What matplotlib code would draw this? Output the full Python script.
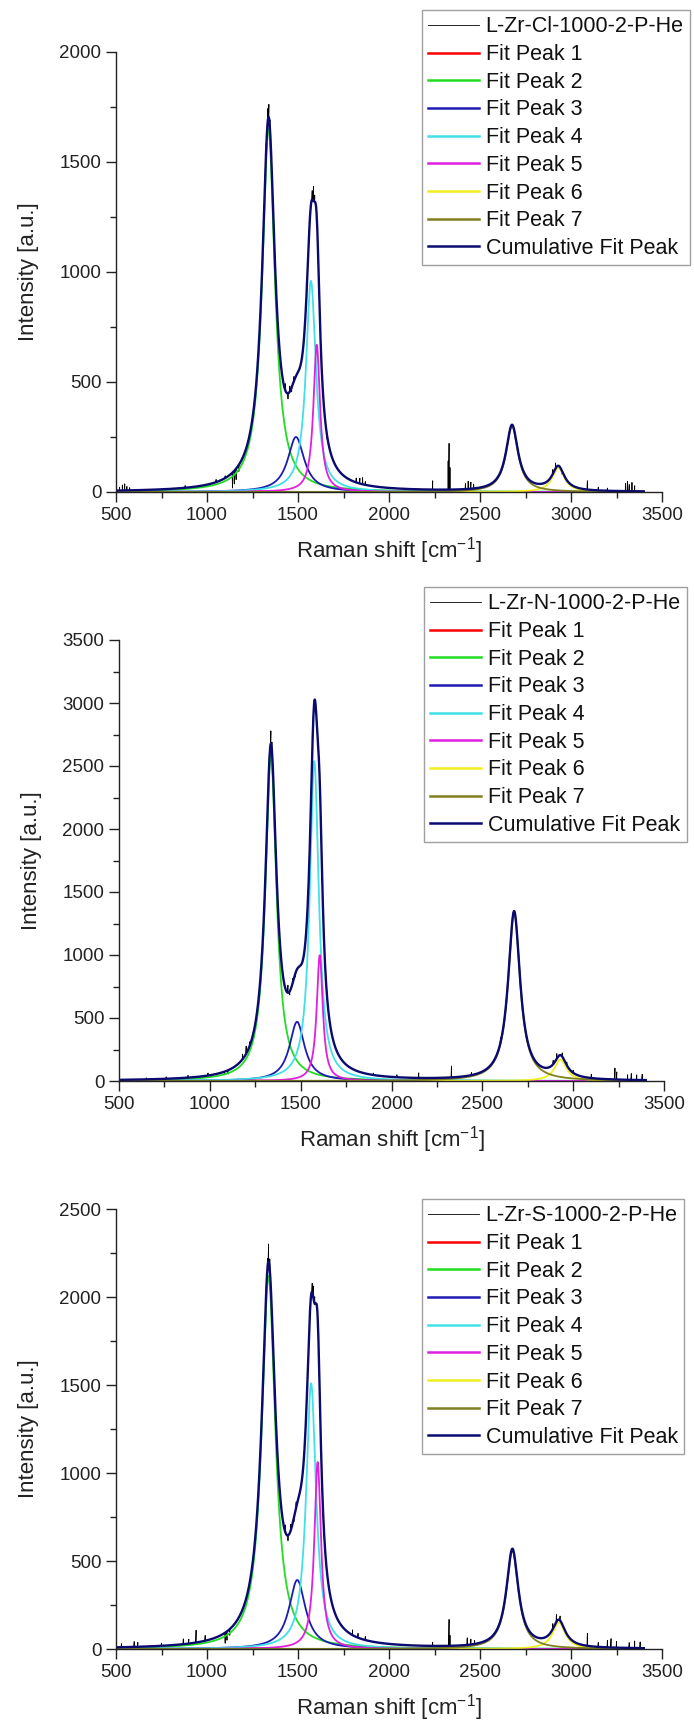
import matplotlib
matplotlib.use("Agg")
import matplotlib.pyplot as plt
from matplotlib.ticker import MultipleLocator
import numpy as np

plt.rcParams['font.family'] = ['Liberation Sans', 'DejaVu Sans']
plt.rcParams['mathtext.fontset'] = 'custom'
plt.rcParams['mathtext.rm'] = 'Liberation Sans'
plt.rcParams['mathtext.default'] = 'regular'

sample_names = ['L-Zr-Cl-1000-2-P-He', 'L-Zr-N-1000-2-P-He', 'L-Zr-S-1000-2-P-He']
y_max = [2000, 3500, 2500]
peak_labels = ['Fit Peak %d' % i for i in range(1, 8)]
peak_colors = ['#FF0000', '#22DD22', '#1C1CB4', '#40E0E8', '#E020E0', '#F0F020', '#808020']

# fitted peaks: centre, height, half width (cm-1)
cl_pos = [1200, 1338, 1489, 1571, 1603, 2930, 2676]
cl_height = [5, 1650, 250, 960, 670, 110, 300]
cl_hwhm = [100, 42, 55, 33, 22, 40, 40]

n_pos = [1200, 1336, 1480, 1575, 1605, 2930, 2675]
n_height = [5, 2580, 470, 2540, 1000, 170, 1340]
n_hwhm = [100, 37, 50, 30, 20, 40, 40]

s_pos = [1200, 1338, 1496, 1572, 1608, 2933, 2678]
s_height = [5, 2120, 392, 1510, 1062, 150, 561]
s_hwhm = [100, 45, 55, 33, 22, 42, 40]

# raw spectrum: where the measured curve leaves the fit (x, offset)
cl_spike_x = [520, 535, 548, 560, 575, 880, 1050, 1100, 1140, 1150, 1160, 1175,
              1325, 1334, 1340, 1346, 1430, 1445, 1455, 1465, 1478, 1578, 1585, 1592,
              1650, 1660, 1820, 1840, 1855, 1870, 2240, 2325, 2330, 2335,
              2420, 2435, 2450, 2465, 2900, 2915, 2950, 3090, 3150, 3200,
              3300, 3310, 3320, 3335, 3350]
cl_spike_dy = [15, 25, 30, 18, 12, 10, 12, 10, -70, -60, -50, -30,
               30, 55, 60, 40, 30, -25, 25, -20, 20, 40, 65, 30,
               20, -15, 20, 25, 30, 15, 40, 130, 210, 100,
               25, 35, 30, 20, 20, 25, -15, 40, 15, 12,
               35, 45, 30, 40, 25]

n_spike_x = [650, 760, 880, 990, 1080, 1100, 1180, 1200, 1220,
             1328, 1336, 1342, 1430, 1440, 1455, 1470,
             1900, 2030, 2150, 2330, 2440, 2600, 2620, 2700,
             2890, 2910, 2940, 2965, 3000, 3100, 3230, 3240, 3300, 3320, 3350, 3380]
n_spike_dy = [12, 15, 18, 20, -25, -30, 40, 60, 30,
              60, 100, 70, 60, -30, 40, -25,
              15, 20, 40, 90, 20, 40, -30, 30,
              30, 40, 30, 25, 20, 30, 90, 60, 40, 50, 40, 45]

s_spike_x = [530, 600, 620, 750, 870, 900, 940, 990, 1100, 1110, 1125,
             1332, 1338, 1345, 1430, 1445, 1460, 1478, 1490, 1578, 1585, 1592,
             1640, 1800, 1830, 1870, 2240, 2330, 2335, 2430, 2450, 2470,
             2900, 2920, 2940, 3090, 3150, 3200, 3220, 3250, 3320, 3350, 3380]
s_spike_dy = [20, 30, 25, 15, 30, 25, 70, 30, -60, -50, -35,
              60, 100, 60, 40, -30, 35, -25, 30, 50, 70, 40,
              40, 30, 25, 20, 20, 150, 60, 40, 30, 20,
              30, 40, 25, 70, 25, 40, 50, 35, 30, 40, 35]

panels = [
    (cl_pos, cl_height, cl_hwhm, cl_spike_x, cl_spike_dy),
    (n_pos, n_height, n_hwhm, n_spike_x, n_spike_dy),
    (s_pos, s_height, s_hwhm, s_spike_x, s_spike_dy),
]

# axes boxes in pixels (left, top of plot, width, height) and legend corner
axes_px = [(116, 52, 546, 440), (119, 640, 545, 441), (116, 1209, 546, 440)]
legend_px = [(422, 10), (424, 587), (422, 1199)]

W, H = 694, 1722


def lorentz(x, x0, h, w):
    return h / (1 + ((x - x0) / w) ** 2)


fig = plt.figure(figsize=(W / 100, H / 100), dpi=100)

for k, (pos, hgt, wid, sx, sdy) in enumerate(panels):
    l, t, w, h = axes_px[k]
    ax = fig.add_axes([l / W, 1 - (t + h) / H, w / W, h / H])

    x = np.arange(500, 3401, 2.0)
    xr = np.sort(np.concatenate([x, np.array(sx, dtype=float)]))
    peaks = [lorentz(x, p, a, g) for p, a, g in zip(pos, hgt, wid)]
    total = np.sum(peaks, axis=0)
    raw = np.sum([lorentz(xr, p, a, g) for p, a, g in zip(pos, hgt, wid)], axis=0)
    for xs, dy in zip(sx, sdy):
        raw[np.searchsorted(xr, xs)] += dy
    raw = np.clip(raw, 0, None)

    handles = []
    handles += ax.plot(xr, raw, color='black', lw=0.6, label=sample_names[k])
    for i in range(7):
        handles += ax.plot(x, peaks[i], color=peak_colors[i], lw=1.3, label=peak_labels[i])
    handles += ax.plot(x, total, color='#0A0A70', lw=1.7, label='Cumulative Fit Peak')

    ax.set_xlim(500, 3500)
    ax.set_ylim(0, y_max[k])
    ax.xaxis.set_major_locator(MultipleLocator(500))
    ax.xaxis.set_minor_locator(MultipleLocator(250))
    ax.yaxis.set_major_locator(MultipleLocator(500))
    ax.yaxis.set_minor_locator(MultipleLocator(250))
    for s in ['top', 'right']:
        ax.spines[s].set_visible(False)
    for s in ['left', 'bottom']:
        ax.spines[s].set_linewidth(1.0)
        ax.spines[s].set_color('#222222')
    ax.tick_params(which='major', direction='out', length=7, width=1, labelsize=13.5,
                   color='#222222', labelcolor='#222222')
    ax.tick_params(which='minor', direction='out', length=4, width=1, color='#222222')

    ax.set_xlabel('Raman shift [cm$^{-1}$]', fontsize=16, labelpad=8, color='#222222')
    ax.set_ylabel('Intensity [a.u.]', fontsize=16, labelpad=15, color='#222222')

    lx, ly = legend_px[k]
    leg = ax.legend(handles=handles, loc='upper left', bbox_to_anchor=(lx / W, 1 - ly / H),
                    bbox_transform=fig.transFigure, fontsize=15.5, frameon=True,
                    fancybox=False, edgecolor='#a0a0a0', framealpha=1, borderpad=0.3,
                    labelspacing=0.31, handlelength=2.35, handletextpad=0.3, borderaxespad=0)
    leg.get_frame().set_linewidth(1.0)
    for txt in leg.get_texts():
        txt.set_color('#111111')
    for ln in leg.get_lines()[1:]:
        ln.set_linewidth(1.8)

fig.savefig('out.png', dpi=100)
